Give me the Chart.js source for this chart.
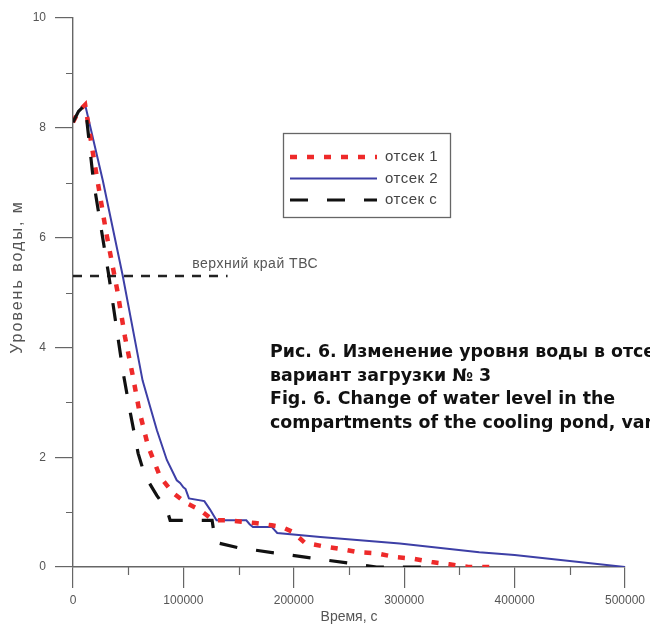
<!DOCTYPE html>
<html>
<head>
<meta charset="utf-8">
<script src="https://cdn.jsdelivr.net/npm/chart.js@4.4.0/dist/chart.umd.min.js"></script>
<style>
  html, body { margin: 0; padding: 0; background: #fff; overflow: hidden; }
  #wrap { position: relative; width: 650px; height: 626px; overflow: hidden; }
  #caption {
    position: absolute; left: 270px; top: 340px; width: 700px;
    font-family: "DejaVu Sans", sans-serif; font-weight: bold; font-size: 17.4px;
    line-height: 23.7px; color: #111; white-space: nowrap;
  }
</style>
</head>
<body>
<div id="wrap">
  <canvas id="levelChart" width="650" height="626"></canvas>
  <div id="caption">
    Рис. 6. Изменение уровня воды в отсеках бассейна выдержки,<br>
    вариант загрузки № 3<br>
    Fig. 6. Change of water level in the<br>
    compartments of the cooling pond, variant of loading No. 3
  </div>
</div>
<script>
// время, с / уровень воды, м
const seriesNames = ['отсек 1', 'отсек 2', 'отсек c'];

const time1 = [0, 5000, 11000, 20000, 30000, 40000, 47000, 54000, 60000, 68000, 79000, 90600, 103000, 115000, 127000, 139500, 165000, 180000, 189000, 199000, 210000, 226000, 242000, 258000, 275000, 292000, 308000, 325000, 341000, 358000, 378000];
const level1 = [8.1, 8.3, 8.42, 7.3, 6.1, 5.05, 4.2, 3.5, 2.85, 2.2, 1.64, 1.35, 1.16, 1.04, 0.85, 0.85, 0.8, 0.76, 0.73, 0.64, 0.44, 0.38, 0.33, 0.27, 0.25, 0.18, 0.15, 0.09, 0.05, 0, 0];

const time2 = [0, 5000, 11000, 27000, 45000, 63000, 70000, 76000, 85000, 94000, 97000, 100000, 102000, 105000, 119000, 124000, 130000, 157000, 160000, 163000, 180000, 185000, 224000, 296000, 368000, 400000, 500000];
const level2 = [8.1, 8.3, 8.42, 7.04, 5.31, 3.4, 2.91, 2.49, 1.95, 1.58, 1.53, 1.45, 1.42, 1.25, 1.2, 1.05, 0.85, 0.85, 0.78, 0.73, 0.73, 0.62, 0.545, 0.43, 0.27, 0.22, 0];

const time3 = [0, 5000, 11000, 18400, 32500, 45500, 52000, 59000, 65000, 71500, 76000, 85000, 88000, 126000, 129000, 150000, 185000, 217000, 250000, 275000, 322000];
const level3 = [8.1, 8.3, 8.42, 7.05, 5.3, 3.53, 2.8, 2.07, 1.67, 1.45, 1.3, 1.05, 0.85, 0.85, 0.45, 0.35, 0.25, 0.16, 0.07, 0, 0];

// верхний край ТВС
const fuelTopTime = [0, 140000];
const fuelTopLevel = [5.3, 5.3];
const fuelTopLabel = 'верхний край ТВС';

const xTitle = 'Время, с';
const yTitle = 'Уровень воды, м';
const xTicksMax = 500000;
const yTicksMax = 10;

const toPoints = (xs, ys) => xs.map((x, i) => ({x: x, y: ys[i]}));

const axisGray = '#666';
const textGray = '#555';
const fontFamily = '"Liberation Sans", Arial, sans-serif';

const extras = {
  id: 'extras',
  afterDraw(chart) {
    const c = chart.ctx;
    const xs = chart.scales.x, ys = chart.scales.y;
    c.save();
    // малые деления
    c.strokeStyle = axisGray;
    c.lineWidth = 1.2;
    c.beginPath();
    for (let v = 1; v < yTicksMax; v += 2) {
      const py = Math.round(ys.getPixelForValue(v)) + 0.5;
      c.moveTo(xs.left - 7, py);
      c.lineTo(xs.left, py);
    }
    for (let v = 50000; v < xTicksMax; v += 100000) {
      const px = Math.round(xs.getPixelForValue(v)) + 0.5;
      c.moveTo(px, ys.bottom);
      c.lineTo(px, ys.bottom + 8);
    }
    c.stroke();

    // подпись оси Y
    c.save();
    c.fillStyle = textGray;
    c.font = '16px ' + fontFamily;
    c.letterSpacing = '2px';
    c.textAlign = 'center';
    c.textBaseline = 'middle';
    c.translate(18, 277);
    c.rotate(-Math.PI / 2);
    c.fillText(yTitle, 0, 0);
    c.restore();

    // подпись уровня ТВС
    c.fillStyle = textGray;
    c.font = '14px ' + fontFamily;
    c.letterSpacing = '0.5px';
    c.textBaseline = 'middle';
    c.fillText(fuelTopLabel, xs.getPixelForValue(108000), ys.getPixelForValue(5.3) - 12);

    // легенда
    c.strokeStyle = axisGray;
    c.lineWidth = 1.3;
    c.strokeRect(283.5, 133.5, 167, 84);
    const rows = [157, 178.5, 200];
    seriesNames.forEach((name, i) => {
      const ds = chart.data.datasets[i];
      c.save();
      c.strokeStyle = ds.borderColor;
      c.lineWidth = ds.borderWidth;
      c.setLineDash(ds.borderDash || []);
      c.beginPath();
      c.moveTo(290, rows[i]);
      c.lineTo(377, rows[i]);
      c.stroke();
      c.restore();
      c.fillStyle = '#444';
      c.font = '15px ' + fontFamily;
      c.letterSpacing = '0.5px';
      c.fillText(name, 385, rows[i]);
    });
    c.restore();
  }
};

const ctx = document.getElementById('levelChart');
new Chart(ctx, {
  type: 'line',
  data: {
    datasets: [
      {label: seriesNames[0], data: toPoints(time1, level1), borderColor: '#ee2a2a', borderWidth: 4.5, borderDash: [7, 10], order: 1},
      {label: seriesNames[1], data: toPoints(time2, level2), borderColor: '#3d3fa6', borderWidth: 2, order: 2},
      {label: seriesNames[2], data: toPoints(time3, level3), borderColor: '#111', borderWidth: 3.2, borderDash: [18, 19], order: 0},
      {label: fuelTopLabel, data: toPoints(fuelTopTime, fuelTopLevel), borderColor: '#222', borderWidth: 2.5, borderDash: [9, 8], order: 3}
    ]
  },
  options: {
    responsive: false,
    animation: false,
    elements: {point: {radius: 0}, line: {tension: 0, fill: false}},
    layout: {padding: {top: 18, right: 24, left: 0, bottom: 0}},
    plugins: {legend: {display: false}, tooltip: {enabled: false}},
    scales: {
      x: {
        type: 'linear', min: 0, max: xTicksMax,
        ticks: {stepSize: 100000, maxRotation: 0, autoSkip: false, padding: 5, color: textGray,
                font: {family: fontFamily, size: 12}, callback: v => String(v)},
        grid: {drawOnChartArea: false, tickLength: 21, color: axisGray, lineWidth: 1.2},
        border: {color: axisGray, width: 1.4},
        title: {display: true, text: xTitle, color: textGray, padding: {top: 0, bottom: 0},
                font: {family: fontFamily, size: 14}},
        afterFit: s => { s.height = 59; }
      },
      y: {
        type: 'linear', min: 0, max: yTicksMax,
        ticks: {stepSize: 2, padding: 9, color: textGray,
                font: {family: fontFamily, size: 12}, callback: v => String(v)},
        grid: {drawOnChartArea: false, tickLength: 18, color: axisGray, lineWidth: 1.2},
        border: {color: axisGray, width: 1.4},
        afterFit: s => { s.width = 73; }
      }
    }
  },
  plugins: [extras]
});
</script>
</body>
</html>
